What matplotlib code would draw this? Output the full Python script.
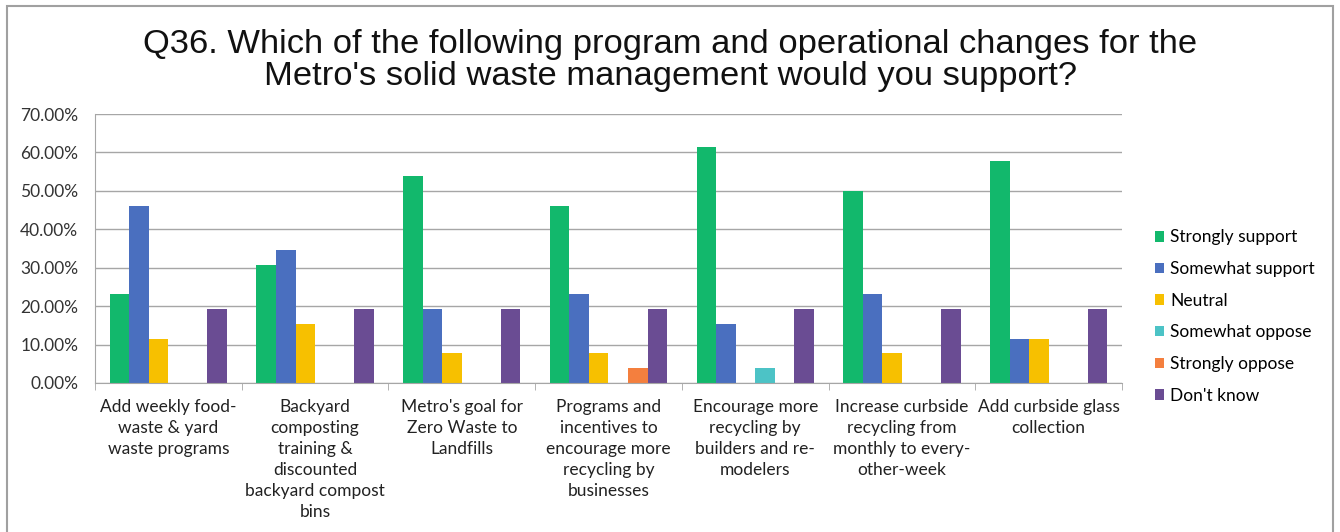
import matplotlib
matplotlib.use("Agg")
import matplotlib.pyplot as plt
import numpy as np
from matplotlib.patches import Rectangle

categories = [
    "Add weekly food-\nwaste & yard\nwaste programs",
    "Backyard\ncomposting\ntraining &\ndiscounted\nbackyard compost\nbins",
    "Metro's goal for\nZero Waste to\nLandfills",
    "Programs and\nincentives to\nencourage more\nrecycling by\nbusinesses",
    "Encourage more\nrecycling by\nbuilders and re-\nmodelers",
    "Increase curbside\nrecycling from\nmonthly to every-\nother-week",
    "Add curbside glass\ncollection",
]
series_names = ["Strongly support", "Somewhat support", "Neutral",
                "Somewhat oppose", "Strongly oppose", "Don't know"]
strongly_support = [23.08, 30.77, 53.85, 46.15, 61.54, 50.00, 57.69]
somewhat_support = [46.15, 34.62, 19.23, 23.08, 15.38, 23.08, 11.54]
neutral          = [11.54, 15.38, 7.69, 7.69, 0.0, 7.69, 11.54]
somewhat_oppose  = [0.0, 0.0, 0.0, 0.0, 3.85, 0.0, 0.0]
strongly_oppose  = [0.0, 0.0, 0.0, 3.85, 0.0, 0.0, 0.0]
dont_know        = [19.23, 19.23, 19.23, 19.23, 19.23, 19.23, 19.23]
y_ticks = [0, 10, 20, 30, 40, 50, 60, 70]

colors = ["#12B86C", "#4A6FBF", "#F7C000", "#4CC3C6", "#F47F3E", "#6A4C93"]
all_series = [strongly_support, somewhat_support, neutral,
              somewhat_oppose, strongly_oppose, dont_know]

plt.rcParams['font.family'] = ['Lato', 'DejaVu Sans']

fig = plt.figure(figsize=(13.4, 5.32), dpi=100)
ax = fig.add_axes([0.0709, 0.2801, 0.7664, 0.5056])

n = len(categories)
x = np.arange(n)
bw = 0.8 / 6
for i, (vals, c, name) in enumerate(zip(all_series, colors, series_names)):
    ax.bar(x - 0.4 + bw * (i + 0.5), vals, width=bw, color=c, label=name)

ax.set_xlim(-0.5, n - 0.5)
ax.set_ylim(0, 70)
ax.set_yticks(y_ticks)
ax.set_yticklabels([f"{v:.2f}%" for v in y_ticks], fontsize=12.5, color="#333333")
ax.yaxis.grid(True, color="#A6A6A6", linewidth=1.0)
ax.set_axisbelow(True)
ax.tick_params(axis='y', length=0, pad=12)

ax.set_xticks(x)
ax.set_xticklabels(categories, fontsize=12.5, color="#222222", linespacing=1.38)
ax.set_xticks(np.arange(n + 1) - 0.5, minor=True)
ax.tick_params(axis='x', which='major', length=0, pad=11.5)
ax.tick_params(axis='x', which='minor', length=5, color="#A6A6A6")

for s in ["top", "right"]:
    ax.spines[s].set_visible(False)
ax.spines["left"].set_color("#A6A6A6")
ax.spines["bottom"].set_color("#A6A6A6")

leg = fig.legend(loc="upper left", bbox_to_anchor=(0.850, 0.598), frameon=False,
                 fontsize=12.5, handlelength=0.55, handleheight=0.55,
                 handletextpad=0.35, labelspacing=0.9)

fig.text(0.5, 0.887, "Q36. Which of the following program and operational changes for the\n"
         "Metro's solid waste management would you support?",
         ha="center", va="center", fontsize=24.8, family="Liberation Sans",
         linespacing=1.05, color="#111111")

fig.patches.append(Rectangle((0.005, -0.02), 0.99, 1.0087, transform=fig.transFigure,
                             fill=False, edgecolor="#A0A0A0", linewidth=1.5))

fig.savefig("out.png", dpi=100)
